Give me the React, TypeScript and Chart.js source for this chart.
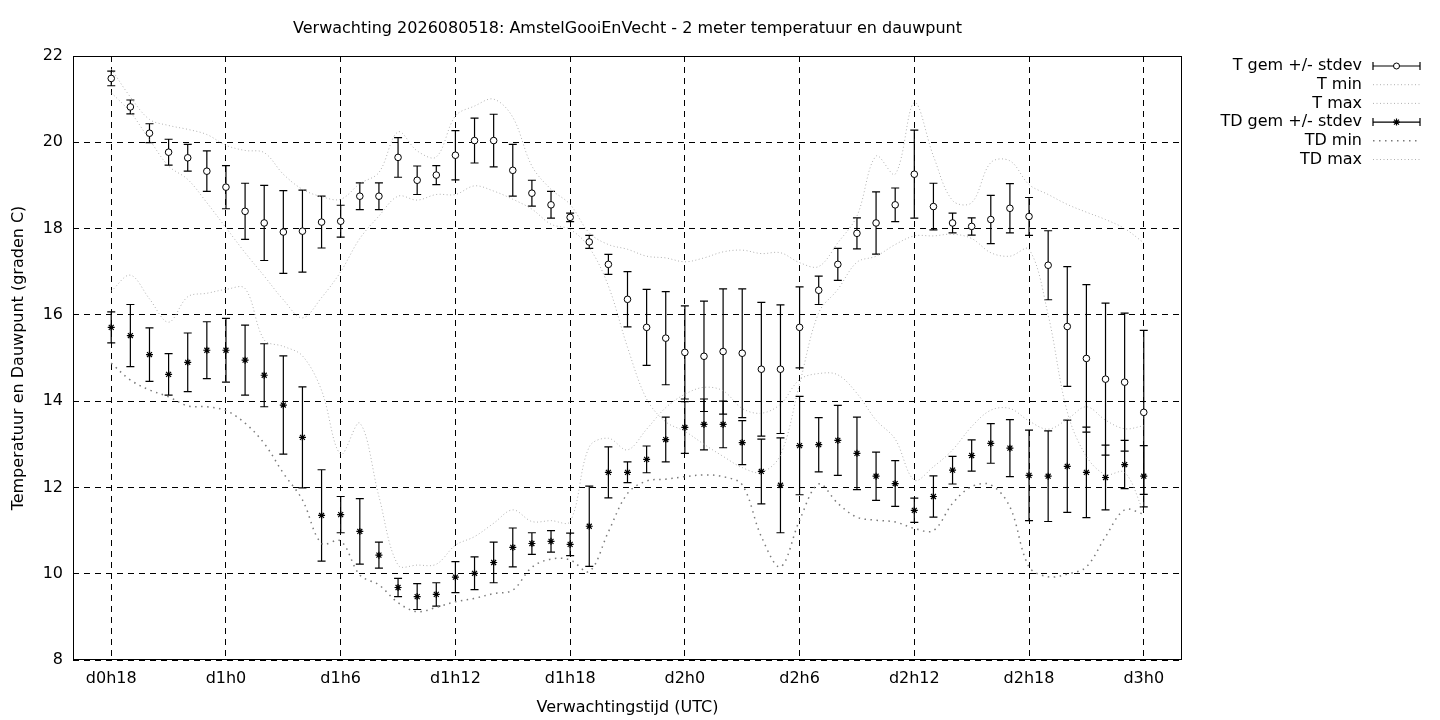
import { useEffect, useRef } from "react";
import { Chart, registerables } from "chart.js";
import type { Plugin } from "chart.js";

Chart.register(...registerables);

const FONT = "'DejaVu Sans', sans-serif";
const FONT_SIZE = 16;

const chartTitle = "Verwachting 2026080518: AmstelGooiEnVecht - 2 meter temperatuur en dauwpunt";
const xAxisTitle = "Verwachtingstijd (UTC)";
const yAxisTitle = "Temperatuur en Dauwpunt (graden C)";

// lead time in hours from d0h0; one value per hour, d0h18 .. d3h0
const firstHour = 18;
const xTickHours = [18, 24, 30, 36, 42, 48, 54, 60, 66, 72];
const xTickLabels = ["d0h18", "d1h0", "d1h6", "d1h12", "d1h18", "d2h0", "d2h6", "d2h12", "d2h18", "d3h0"];

const tMean = [
  21.48, 20.82, 20.21, 19.77, 19.64, 19.33, 18.96, 18.4, 18.13, 17.92,
  17.94, 18.15, 18.17, 18.75, 18.75, 19.65, 19.12, 19.24, 19.7, 20.04,
  20.04, 19.35, 18.82, 18.55, 18.26, 17.69, 17.17, 16.36, 15.71, 15.46,
  15.13, 15.04, 15.15, 15.11, 14.74, 14.74, 15.71, 16.57, 17.17, 17.89,
  18.13, 18.55, 19.26, 18.51, 18.13, 18.05, 18.21, 18.47, 18.28, 17.15,
  15.73, 14.99, 14.51, 14.44, 13.74,
];
const tStdev = [
  0.17, 0.16, 0.22, 0.3, 0.31, 0.47, 0.5, 0.65, 0.87, 0.96,
  0.95, 0.6, 0.37, 0.31, 0.31, 0.46, 0.33, 0.22, 0.57, 0.52,
  0.61, 0.6, 0.3, 0.31, 0.1, 0.15, 0.23, 0.64, 0.88, 1.08,
  1.08, 1.28, 1.45, 1.49, 1.55, 1.49, 0.94, 0.33, 0.37, 0.36,
  0.72, 0.39, 1.02, 0.54, 0.23, 0.2, 0.56, 0.57, 0.44, 0.8,
  1.39, 1.71, 1.76, 1.6, 1.9,
];
const tMin = [
  21.15, 20.7, 20.06, 19.45, 19.14, 18.6, 18.02, 17.44, 16.9, 16.35,
  15.93, 16.4, 17.0, 17.77, 18.29, 18.75, 18.66, 18.79, 18.79, 18.99,
  18.87, 18.68, 18.45, 18.1, 17.98, 17.56, 16.67, 15.25, 14.05, 13.52,
  13.3, 13.0, 12.72, 12.46, 12.35, 12.75, 14.4, 16.05, 16.59, 17.22,
  17.36, 17.63, 17.83, 17.83, 17.87, 17.77, 17.44, 17.36, 17.52, 16.0,
  13.75, 12.72, 12.3, 12.35, 11.42,
];
const tMax = [
  21.7, 21.05, 20.53, 20.39, 20.3, 20.18, 19.93, 19.81, 19.76, 19.26,
  18.91, 18.74, 18.68, 19.04, 19.3, 20.24, 19.8, 19.66, 20.61, 20.84,
  21.0, 20.58, 19.45, 18.91, 18.56, 17.9, 17.63, 17.52, 17.36, 17.32,
  17.23, 17.32, 17.46, 17.5, 17.42, 17.44, 17.21, 17.12, 17.67, 18.29,
  19.68, 19.26, 20.92, 19.68, 18.65, 18.6, 19.53, 19.57, 19.02, 18.79,
  18.56, 18.38, 18.21, 18.0, 17.67,
];

const tdMean = [
  15.71, 15.52, 15.08, 14.62, 14.9, 15.18, 15.18, 14.95, 14.6, 13.91,
  13.16, 11.35, 11.37, 10.98, 10.43, 9.68, 9.47, 9.52, 9.92, 10.01,
  10.26, 10.61, 10.7, 10.75, 10.68, 11.1, 12.35, 12.35, 12.65, 13.11,
  13.39, 13.46, 13.46, 13.04, 12.37, 12.05, 12.97, 12.99, 13.09, 12.79,
  12.26, 12.09, 11.47, 11.79, 12.4, 12.74, 13.02, 12.91, 12.28, 12.26,
  12.49, 12.35, 12.23, 12.53, 12.26,
];
const tdStdev = [
  0.36, 0.72, 0.62, 0.48, 0.68, 0.66, 0.74, 0.81, 0.73, 1.14,
  1.17, 1.06, 0.42, 0.76, 0.3, 0.21, 0.3, 0.27, 0.36, 0.38,
  0.47, 0.45, 0.25, 0.25, 0.26, 0.93, 0.59, 0.24, 0.31, 0.52,
  0.6, 0.59, 0.54, 0.51, 0.75, 1.1, 1.14, 0.63, 0.81, 0.84,
  0.56, 0.53, 0.28, 0.48, 0.32, 0.36, 0.46, 0.66, 1.05, 1.05,
  1.07, 1.05, 0.75, 0.56, 0.71,
];
const tdMin = [
  14.88, 14.49, 14.26, 14.1, 13.89, 13.87, 13.78, 13.49, 13.02, 12.33,
  11.71, 10.7, 10.76, 9.97, 9.74, 9.33, 9.12, 9.22, 9.35, 9.43,
  9.54, 9.62, 10.15, 10.34, 10.32, 10.05, 10.97, 11.86, 12.15, 12.19,
  12.25, 12.29, 12.25, 12.06, 10.86, 10.16, 11.24, 12.08, 11.63, 11.31,
  11.24, 11.2, 11.05, 11.0, 11.63, 12.02, 12.06, 11.55, 10.16, 9.93,
  9.99, 10.16, 10.86, 11.48, 11.38,
];
const tdMax = [
  16.55, 16.92, 16.37, 15.83, 16.42, 16.5, 16.59, 16.61, 15.42, 15.27,
  15.05, 14.25, 12.77, 13.49, 11.79, 10.2, 10.2, 10.22, 10.66, 10.86,
  11.17, 11.48, 11.21, 11.23, 11.21, 12.94, 13.14, 12.87, 13.35, 13.85,
  14.16, 14.32, 14.24, 13.83, 13.72, 13.93, 14.5, 14.64, 14.61, 14.18,
  13.56, 13.12, 12.17, 12.48, 12.87, 13.41, 13.79, 13.83, 13.54, 13.35,
  13.58, 13.87, 13.56, 13.36, 13.43,
];

const toPoints = (values: number[]) => values.map((y, i) => ({ x: firstHour + i, y }));

const FINE_GREY = "#b0b0b0";
const DARK_GREY = "#7a7a7a";
const FINE_DASH = [1, 2.5];
const COARSE_DASH = [1.5, 4.5];

// gnuplot style error bars: vertical line with small caps
const errorBars: Plugin<"line"> = {
  id: "errorBars",
  beforeDatasetsDraw(chart) {
    const { ctx, scales } = chart;
    const sx = scales.x;
    const sy = scales.y;
    ctx.save();
    ctx.strokeStyle = "#000";
    ctx.lineWidth = 1.2;
    ctx.setLineDash([]);
    const draw = (means: number[], sds: number[]) => {
      means.forEach((m, i) => {
        const px = sx.getPixelForValue(firstHour + i);
        const top = sy.getPixelForValue(m + sds[i]);
        const bot = sy.getPixelForValue(m - sds[i]);
        ctx.beginPath();
        ctx.moveTo(px, top);
        ctx.lineTo(px, bot);
        ctx.moveTo(px - 4, top);
        ctx.lineTo(px + 4, top);
        ctx.moveTo(px - 4, bot);
        ctx.lineTo(px + 4, bot);
        ctx.stroke();
      });
    };
    draw(tMean, tStdev);
    draw(tdMean, tdStdev);
    ctx.restore();
  },
};

const frameAndText: Plugin<"line"> = {
  id: "frameAndText",
  afterDraw(chart) {
    const { ctx, chartArea } = chart;
    ctx.save();
    ctx.setLineDash([]);
    ctx.strokeStyle = "#000";
    ctx.lineWidth = 1;
    ctx.strokeRect(chartArea.left + 0.5, chartArea.top + 0.5, chartArea.width - 1, chartArea.height - 1);

    ctx.fillStyle = "#000";
    ctx.font = `${FONT_SIZE}px ${FONT}`;
    ctx.textAlign = "center";
    ctx.textBaseline = "middle";
    ctx.fillText(chartTitle, (chartArea.left + chartArea.right) / 2, 29);

    // legend
    const entries = [
      { label: "T gem +/- stdev", kind: "circle" },
      { label: "T min", kind: "fine" },
      { label: "T max", kind: "fine" },
      { label: "TD gem +/- stdev", kind: "star" },
      { label: "TD min", kind: "coarse" },
      { label: "TD max", kind: "fine" },
    ];
    const textRight = 1362;
    const x0 = 1373;
    const x1 = 1420;
    entries.forEach((e, i) => {
      const y = 66 + i * 18.7;
      ctx.textAlign = "right";
      ctx.fillStyle = "#000";
      ctx.fillText(e.label, textRight, y);
      ctx.beginPath();
      if (e.kind === "circle" || e.kind === "star") {
        ctx.setLineDash([]);
        ctx.strokeStyle = "#000";
        ctx.lineWidth = 1.2;
        ctx.moveTo(x0, y);
        ctx.lineTo(x1, y);
        ctx.moveTo(x0, y - 4);
        ctx.lineTo(x0, y + 4);
        ctx.moveTo(x1, y - 4);
        ctx.lineTo(x1, y + 4);
        ctx.stroke();
        const cx = (x0 + x1) / 2;
        if (e.kind === "circle") {
          ctx.beginPath();
          ctx.fillStyle = "#fff";
          ctx.arc(cx, y, 3, 0, Math.PI * 2);
          ctx.fill();
          ctx.lineWidth = 1;
          ctx.stroke();
        } else {
          ctx.beginPath();
          const r = 3.5;
          ctx.moveTo(cx - r, y);
          ctx.lineTo(cx + r, y);
          ctx.moveTo(cx, y - r);
          ctx.lineTo(cx, y + r);
          const d = r * 0.707;
          ctx.moveTo(cx - d, y - d);
          ctx.lineTo(cx + d, y + d);
          ctx.moveTo(cx - d, y + d);
          ctx.lineTo(cx + d, y - d);
          ctx.stroke();
        }
      } else {
        ctx.strokeStyle = e.kind === "coarse" ? DARK_GREY : FINE_GREY;
        ctx.lineWidth = e.kind === "coarse" ? 1.5 : 1;
        ctx.setLineDash(e.kind === "coarse" ? COARSE_DASH : FINE_DASH);
        ctx.moveTo(x0, y);
        ctx.lineTo(x1, y);
        ctx.stroke();
      }
    });
    ctx.restore();
  },
};

export default function App() {
  const canvasRef = useRef<HTMLCanvasElement | null>(null);

  useEffect(() => {
    if (!canvasRef.current) return;
    document.body.style.margin = "0";

    const lineStyle = (color: string, dash: number[], width: number) => ({
      showLine: true,
      borderColor: color,
      borderDash: dash,
      borderWidth: width,
      pointRadius: 0,
      tension: 0.35,
      fill: false,
      order: 2,
    });

    const chart = new Chart(canvasRef.current, {
      type: "line",
      data: {
        datasets: [
          {
            label: "T gem +/- stdev",
            data: toPoints(tMean),
            showLine: false,
            pointStyle: "circle",
            pointRadius: 3.3,
            pointBackgroundColor: "#fff",
            pointBorderColor: "#000",
            pointBorderWidth: 1,
            order: 1,
          },
          { label: "T min", data: toPoints(tMin), ...lineStyle(FINE_GREY, FINE_DASH, 1) },
          { label: "T max", data: toPoints(tMax), ...lineStyle(FINE_GREY, FINE_DASH, 1) },
          {
            label: "TD gem +/- stdev",
            data: toPoints(tdMean),
            showLine: false,
            pointStyle: "star",
            pointRadius: 3.5,
            pointBackgroundColor: "#000",
            pointBorderColor: "#000",
            pointBorderWidth: 1.2,
            order: 1,
          },
          { label: "TD min", data: toPoints(tdMin), ...lineStyle(DARK_GREY, COARSE_DASH, 1.5) },
          { label: "TD max", data: toPoints(tdMax), ...lineStyle(FINE_GREY, FINE_DASH, 1) },
        ],
      },
      options: {
        animation: false,
        responsive: true,
        maintainAspectRatio: false,
        devicePixelRatio: 1,
        events: [],
        layout: { padding: { top: 56, right: 258, left: 0, bottom: 0 } },
        plugins: {
          legend: { display: false },
          tooltip: { enabled: false },
        },
        scales: {
          x: {
            type: "linear",
            min: 16,
            max: 74,
            afterBuildTicks: (scale) => {
              scale.ticks = xTickHours.map((value) => ({ value }));
            },
            afterFit: (scale) => {
              scale.height = 60;
            },
            ticks: {
              autoSkip: false,
              maxRotation: 0,
              padding: 9,
              color: "#000",
              font: { family: FONT, size: FONT_SIZE },
              callback: (_value, index) => xTickLabels[index],
            },
            grid: { color: "#000", lineWidth: 1, drawTicks: false },
            border: { display: false, dash: [6, 5] },
            title: {
              display: true,
              text: xAxisTitle,
              color: "#000",
              font: { family: FONT, size: FONT_SIZE },
              padding: { top: 0, bottom: 3 },
            },
          },
          y: {
            min: 8,
            max: 22,
            afterFit: (scale) => {
              scale.width = 73;
            },
            ticks: {
              stepSize: 2,
              padding: 10,
              color: "#000",
              font: { family: FONT, size: FONT_SIZE },
            },
            grid: { color: "#000", lineWidth: 1, drawTicks: false },
            border: { display: false, dash: [6, 5] },
            title: {
              display: true,
              text: yAxisTitle,
              color: "#000",
              font: { family: FONT, size: FONT_SIZE },
              padding: { top: 9, bottom: 0 },
            },
          },
        },
      },
      plugins: [errorBars, frameAndText],
    });

    return () => {
      chart.destroy();
    };
  }, []);

  return (
    <div style={{ position: "fixed", left: 0, top: 0, width: 1440, height: 720, background: "#fff" }}>
      <canvas ref={canvasRef} />
    </div>
  );
}
